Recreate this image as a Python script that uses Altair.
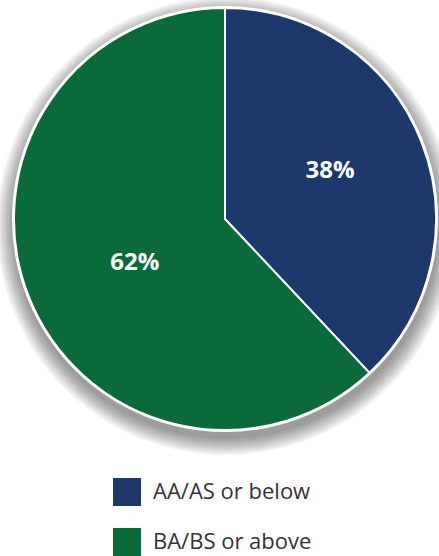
import altair as alt
import pandas as pd
import math

categories = ["AA/AS or below", "BA/BS or above"]
shares = [38, 62]
labels = ["38%", "62%"]
colors = ["#1d386c", "#0b6a3a"]

df = pd.DataFrame({"cat": categories, "share": shares, "label": labels, "order": [0, 1]})

CX, CY, R = 225, 219, 211

color = alt.Color("cat:N", scale=alt.Scale(domain=categories, range=colors),
                  legend=alt.Legend(title=None, orient="none", legendX=113, legendY=478,
                                    symbolType="square", symbolSize=784, symbolStrokeWidth=0,
                                    symbolOpacity=1,
                                    labelFontSize=22, labelFont="Open Sans", labelColor="#333333",
                                    labelOffset=12, rowPadding=22, labelLimit=300))

one = pd.DataFrame({"a": [1]})
shadow_layers = []
for dr in range(18, 0, -2):
    shadow_layers.append(
        alt.Chart(one).mark_arc(
            theta=0, theta2=2 * math.pi, outerRadius=R + dr, color="#000000", opacity=0.05
        ).encode(x=alt.value(CX + 1), y=alt.value(CY + 7))
    )
ring = alt.Chart(one).mark_arc(
    theta=0, theta2=2 * math.pi, outerRadius=R + 2, color="white"
).encode(x=alt.value(CX), y=alt.value(CY))

base = alt.Chart(df)
pie = base.mark_arc(outerRadius=R, stroke="white", strokeWidth=2).encode(
    theta=alt.Theta("share:Q", stack=True),
    order=alt.Order("order:Q"),
    color=color,
    x=alt.value(CX), y=alt.value(CY),
)

text_base = base.transform_joinaggregate(
    total="sum(share)"
).transform_window(
    cum="sum(share)", sort=[alt.SortField("order")], frame=[None, 0]
).transform_calculate(
    mid="2*PI*(datum.cum - datum.share/2)/datum.total"
)

text_layers = []
for cat, rad, dy in [(categories[0], 113, -6), (categories[1], 97, 8)]:
    text_layers.append(
        text_base.transform_filter(alt.datum.cat == cat).mark_text(
            font="Open Sans", fontSize=24, fontWeight="bold", color="white", radius=rad, dy=dy
        ).encode(
            theta=alt.Theta("mid:Q", scale=None),
            text="label:N",
            x=alt.value(CX), y=alt.value(CY),
        )
    )

chart = alt.layer(*shadow_layers, ring, pie, *text_layers).properties(
    width=439, height=556, padding=0, autosize=alt.AutoSizeParams(type="none")
).configure_view(stroke=None)

chart.save("out.html", embed_options={"renderer": "svg", "actions": False})
